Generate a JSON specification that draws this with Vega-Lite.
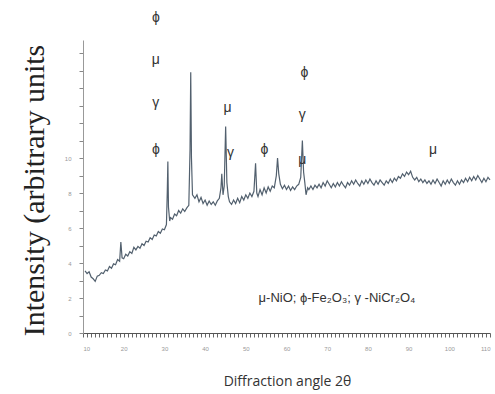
{
  "$schema": "https://vega.github.io/schema/vega-lite/v6.json",
  "width": 407,
  "height": 293,
  "autosize": {"type": "none"},
  "padding": {"left": 83, "top": 40, "right": 5, "bottom": 61},
  "background": "white",
  "config": {"view": {"stroke": null}},
  "datasets": {
    "xrd": [
      {"a":10.5,"i":3.55},{"a":11,"i":3.4},{"a":11.5,"i":3.5},{"a":12,"i":3.2},{"a":12.5,"i":3.1},{"a":13,"i":2.95},{"a":13.5,"i":3.25},{"a":14,"i":3.3},{"a":14.5,"i":3.45},{"a":15,"i":3.4},{"a":15.5,"i":3.6},{"a":16,"i":3.55},{"a":16.5,"i":3.8},{"a":17,"i":3.7},{"a":17.5,"i":3.95},{"a":18,"i":3.9},{"a":18.5,"i":4.2},{"a":19,"i":4.1},{"a":19.3,"i":5.2},{"a":19.6,"i":4.3},{"a":20,"i":4.25},{"a":20.5,"i":4.5},{"a":21,"i":4.4},{"a":21.5,"i":4.65},{"a":22,"i":4.55},{"a":22.5,"i":4.9},{"a":23,"i":4.75},{"a":23.5,"i":4.95},{"a":24,"i":4.85},{"a":24.5,"i":5.1},{"a":25,"i":5.0},{"a":25.5,"i":5.25},{"a":26,"i":5.2},{"a":26.5,"i":5.45},{"a":27,"i":5.35},{"a":27.5,"i":5.6},{"a":28,"i":5.55},{"a":28.5,"i":5.8},{"a":29,"i":5.7},{"a":29.5,"i":5.95},{"a":30,"i":5.9},{"a":30.5,"i":6.2},{"a":30.7,"i":8.0},{"a":30.85,"i":9.8},{"a":31.0,"i":7.2},{"a":31.3,"i":6.4},{"a":31.5,"i":6.6},{"a":32,"i":6.5},{"a":32.5,"i":6.8},{"a":33,"i":6.7},{"a":33.5,"i":7.0},{"a":34,"i":6.85},{"a":34.5,"i":7.1},{"a":35,"i":6.95},{"a":35.5,"i":7.15},{"a":36,"i":7.3},{"a":36.3,"i":10.5},{"a":36.47,"i":14.9},{"a":36.65,"i":10.0},{"a":36.9,"i":7.9},{"a":37.5,"i":7.7},{"a":38,"i":7.9},{"a":38.5,"i":7.5},{"a":39,"i":7.75},{"a":39.5,"i":7.4},{"a":40,"i":7.6},{"a":40.5,"i":7.3},{"a":41,"i":7.55},{"a":41.5,"i":7.35},{"a":42,"i":7.5},{"a":42.5,"i":7.3},{"a":43,"i":7.55},{"a":43.5,"i":7.7},{"a":43.9,"i":8.3},{"a":44.1,"i":9.1},{"a":44.4,"i":7.9},{"a":44.7,"i":8.4},{"a":45.05,"i":11.8},{"a":45.35,"i":8.6},{"a":45.7,"i":7.8},{"a":46,"i":7.5},{"a":46.5,"i":7.35},{"a":47,"i":7.6},{"a":47.5,"i":7.4},{"a":48,"i":7.7},{"a":48.5,"i":7.45},{"a":49,"i":7.8},{"a":49.5,"i":7.6},{"a":50,"i":7.9},{"a":50.5,"i":7.7},{"a":51,"i":8.0},{"a":51.5,"i":7.8},{"a":52,"i":8.1},{"a":52.4,"i":9.7},{"a":52.7,"i":8.0},{"a":53,"i":7.8},{"a":53.5,"i":8.2},{"a":54,"i":7.9},{"a":54.5,"i":8.3},{"a":55,"i":8.0},{"a":55.5,"i":8.35},{"a":56,"i":8.1},{"a":56.5,"i":8.4},{"a":57,"i":8.3},{"a":57.5,"i":9.0},{"a":57.8,"i":10.0},{"a":58.1,"i":9.1},{"a":58.5,"i":8.5},{"a":59,"i":8.25},{"a":59.5,"i":8.45},{"a":60,"i":8.2},{"a":60.5,"i":8.4},{"a":61,"i":8.15},{"a":61.5,"i":8.35},{"a":62,"i":8.2},{"a":62.5,"i":8.4},{"a":63,"i":8.5},{"a":63.5,"i":8.9},{"a":63.9,"i":11.0},{"a":64.2,"i":9.2},{"a":64.5,"i":8.6},{"a":64.8,"i":7.9},{"a":65.2,"i":8.3},{"a":65.5,"i":8.2},{"a":66,"i":8.4},{"a":66.5,"i":8.2},{"a":67,"i":8.45},{"a":67.5,"i":8.3},{"a":68,"i":8.5},{"a":68.5,"i":8.3},{"a":69,"i":8.6},{"a":69.5,"i":8.4},{"a":70,"i":8.7},{"a":70.5,"i":8.5},{"a":71,"i":8.3},{"a":71.5,"i":8.55},{"a":72,"i":8.35},{"a":72.5,"i":8.6},{"a":73,"i":8.4},{"a":73.5,"i":8.65},{"a":74,"i":8.45},{"a":74.5,"i":8.3},{"a":75,"i":8.6},{"a":75.5,"i":8.45},{"a":76,"i":8.7},{"a":76.5,"i":8.5},{"a":77,"i":8.75},{"a":77.5,"i":8.55},{"a":78,"i":8.4},{"a":78.5,"i":8.7},{"a":79,"i":8.5},{"a":79.5,"i":8.75},{"a":80,"i":8.55},{"a":80.5,"i":8.8},{"a":81,"i":8.6},{"a":81.5,"i":8.45},{"a":82,"i":8.7},{"a":82.5,"i":8.5},{"a":83,"i":8.75},{"a":83.5,"i":8.6},{"a":84,"i":8.45},{"a":84.5,"i":8.7},{"a":85,"i":8.55},{"a":85.5,"i":8.8},{"a":86,"i":8.6},{"a":86.5,"i":8.85},{"a":87,"i":8.7},{"a":87.5,"i":8.95},{"a":88,"i":8.85},{"a":88.5,"i":9.1},{"a":89,"i":8.95},{"a":89.5,"i":9.2},{"a":90,"i":9.05},{"a":90.5,"i":9.25},{"a":91,"i":8.9},{"a":91.5,"i":8.75},{"a":92,"i":8.9},{"a":92.5,"i":8.65},{"a":93,"i":8.8},{"a":93.5,"i":8.6},{"a":94,"i":8.75},{"a":94.5,"i":8.55},{"a":95,"i":8.7},{"a":95.5,"i":8.5},{"a":96,"i":8.75},{"a":96.5,"i":8.55},{"a":97,"i":8.8},{"a":97.5,"i":8.6},{"a":98,"i":8.4},{"a":98.5,"i":8.7},{"a":99,"i":8.5},{"a":99.5,"i":8.75},{"a":100,"i":8.55},{"a":100.5,"i":8.8},{"a":101,"i":8.6},{"a":101.5,"i":8.45},{"a":102,"i":8.7},{"a":102.5,"i":8.5},{"a":103,"i":8.75},{"a":103.5,"i":8.6},{"a":104,"i":8.85},{"a":104.5,"i":8.65},{"a":105,"i":8.9},{"a":105.5,"i":8.7},{"a":106,"i":8.95},{"a":106.5,"i":8.75},{"a":107,"i":9.0},{"a":107.5,"i":8.8},{"a":108,"i":8.6},{"a":108.5,"i":8.85},{"a":109,"i":8.65},{"a":109.5,"i":8.9},{"a":110,"i":8.75}
    ],
    "labels": [
      {"a":27.9,"i":18.0,"t":"ϕ"},
      {"a":27.9,"i":15.6,"t":"μ"},
      {"a":27.9,"i":13.14,"t":"γ"},
      {"a":27.9,"i":10.46,"t":"ϕ"},
      {"a":45.54,"i":12.86,"t":"μ"},
      {"a":46.27,"i":10.29,"t":"γ"},
      {"a":54.6,"i":10.46,"t":"ϕ"},
      {"a":64.4,"i":14.86,"t":"ϕ"},
      {"a":63.9,"i":12.46,"t":"γ"},
      {"a":63.9,"i":9.89,"t":"μ"},
      {"a":96.0,"i":10.46,"t":"μ"}
    ],
    "note": [
      {"a":72.4,"i":2.0,"t":"μ-NiO; ϕ-Fe₂O₃; γ -NiCr₂O₄"}
    ]
  },
  "layer": [
    {
      "data": {"name": "xrd"},
      "mark": {"type": "line", "color": "#52606e", "strokeWidth": 1.2},
      "encoding": {
        "x": {
          "field": "a", "type": "quantitative",
          "scale": {"domain": [10, 110], "nice": false, "zero": false},
          "axis": {
            "title": "Diffraction angle 2θ",
            "titleFont": "Open Sans", "titleFontSize": 14, "titleFontWeight": "normal", "titleColor": "#333",
            "titleX": 204, "titleY": 52, "titleAlign": "center", "titleBaseline": "alphabetic",
            "tickCount": 100, "format": "d", "labelExpr": "datum.value % 10 === 0 ? datum.label : ''",
            "labelOverlap": false, "labelFontSize": 6, "labelColor": "#999", "labelPadding": 8,
            "tickSize": 4, "tickColor": "#666", "domainColor": "#555", "grid": false
          }
        },
        "y": {
          "field": "i", "type": "quantitative",
          "scale": {"domain": [0, 16.75], "nice": false, "zero": false},
          "axis": {
            "title": "Intensity (arbitrary units",
            "titleFont": "Liberation Serif", "titleFontSize": 30, "titleFontWeight": "normal", "titleColor": "#222",
            "titleX": -40, "titleY": 150, "titleAngle": -90, "titleAlign": "center", "titleBaseline": "alphabetic",
            "tickCount": 80, "format": "d", "labelExpr": "abs(datum.value % 2) < 0.001 && datum.value <= 10 ? datum.label : ''",
            "labelOverlap": false, "labelFontSize": 6, "labelColor": "#999", "labelPadding": 8,
            "tickSize": 4, "tickColor": "#888", "domainColor": "#999", "grid": false
          }
        }
      }
    },
    {
      "data": {"name": "labels"},
      "mark": {"type": "text", "font": "Liberation Sans", "fontSize": 14, "color": "#333", "align": "center", "baseline": "middle"},
      "encoding": {
        "x": {"field": "a", "type": "quantitative"},
        "y": {"field": "i", "type": "quantitative"},
        "text": {"field": "t"}
      }
    },
    {
      "data": {"name": "note"},
      "mark": {"type": "text", "font": "Liberation Sans", "fontSize": 13, "color": "#333", "align": "center", "baseline": "middle"},
      "encoding": {
        "x": {"field": "a", "type": "quantitative"},
        "y": {"field": "i", "type": "quantitative"},
        "text": {"field": "t"}
      }
    }
  ]
}
